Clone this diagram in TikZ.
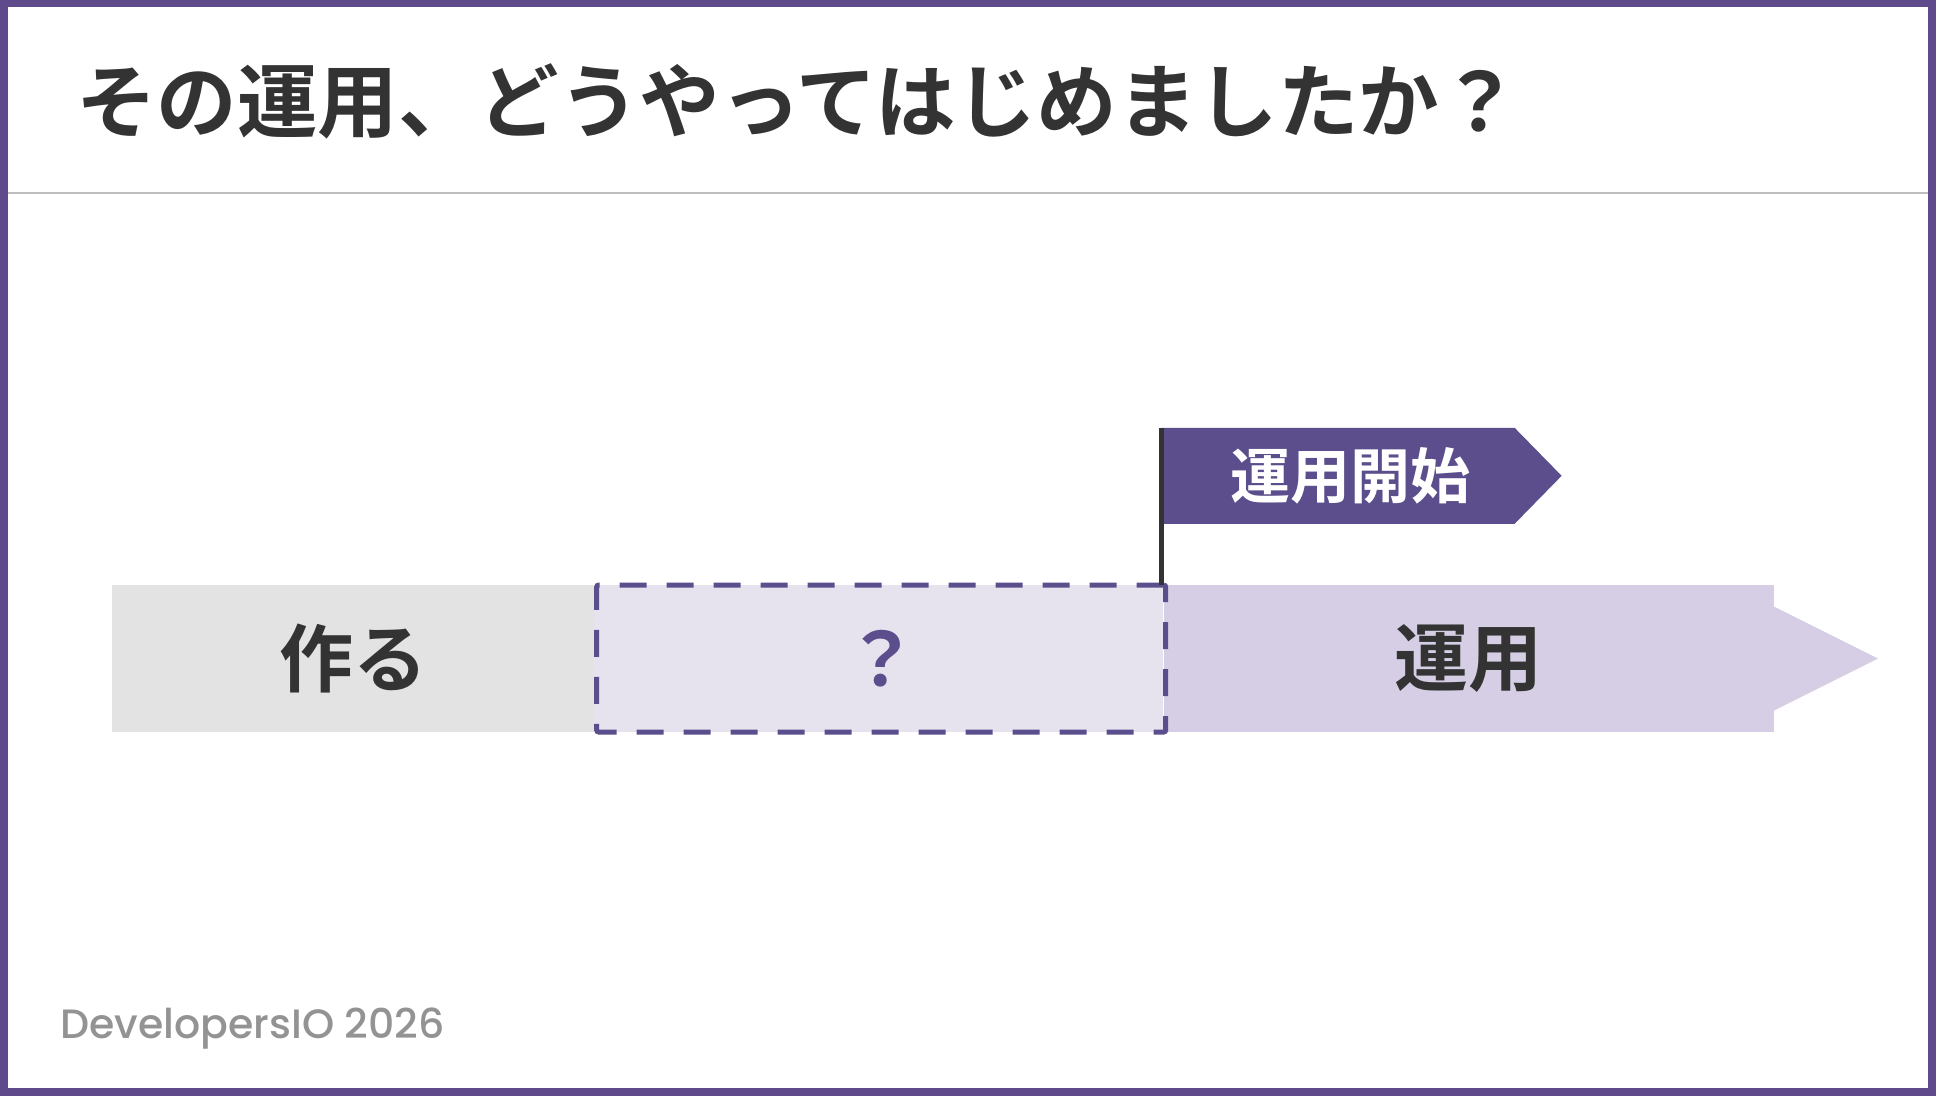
\documentclass[tikz,border=0pt]{standalone}
\usepackage{fontspec}
\usetikzlibrary{positioning, calc}
\newfontfamily\jpfont{Noto Sans CJK JP Bold}
\newfontfamily\logofont{Poppins Medium}
\definecolor{framepurple}{HTML}{5F4B8B}
\definecolor{flagpurple}{HTML}{5C4E8C}
\definecolor{inkgray}{HTML}{333333}
\definecolor{buildgray}{HTML}{E3E3E3}
\definecolor{gapfill}{HTML}{E6E3EF}
\definecolor{opsfill}{HTML}{D6CEE5}
\definecolor{rulegray}{HTML}{BEBEBE}
\definecolor{logogray}{HTML}{939393}

\begin{document}
\begin{tikzpicture}[
    x=1pt, y=-1pt,
    every node/.style={inner sep=0pt, text=inkgray},
    phase/.style={minimum height=147pt, minimum width=#1, font=\jpfont\fontsize{74}{80}\selectfont},
    gapbox/.style={draw=flagpurple, line width=5pt, dash pattern=on 27pt off 20pt, rounded corners=2pt, text=flagpurple},
    pole/.style={draw=inkgray, line width=5pt},
    flagtext/.style={text=white, font=\jpfont\fontsize{60}{66}\selectfont}
]
\useasboundingbox (0,0) rectangle (1936,1096);
\fill[framepurple] (0,0) rectangle (1936,1096);
\fill[white] (8,7) rectangle (1928,1088);

% title
\node[anchor=west, font=\jpfont\fontsize{80.5}{90}\selectfont] (title) at (76,101) {その運用、どうやってはじめましたか？};
\draw[rulegray, line width=2pt] (8,193) -- (1928,193);

% phases
\node[phase=482pt, fill=buildgray] (build) at (353,658.5) {作る};
\node[phase=569pt, fill=gapfill, right=0pt of build] (gap) {};
\node[phase=610pt, fill=opsfill, right=0pt of gap] (ops) {運用};
\fill[opsfill] ($(ops.east)+(0,-52)$) -- ($(ops.east)+(104,0)$) -- ($(ops.east)+(0,52)$) -- cycle;
\node[phase=569pt, gapbox, right=0pt of build] (gapline) {？};

% flag
\coordinate (polefoot) at ($(ops.north west)+(-2,0)$);
\coordinate (flagtop) at ($(ops.north west)+(-2,-157)$);
\fill[flagpurple] (flagtop) -- ++(353,0) -- ++(47,48) -- ++(-47,48) -- ++(-353,0) -- cycle;
\draw[pole] (polefoot) -- (flagtop);
\node[flagtext] (start) at ($(flagtop)+(189,48)$) {運用開始};

% footer
\node[anchor=base west, font=\logofont\fontsize{41}{50}\selectfont, text=logogray] (logo) at (60,1038) {DevelopersIO 2026};
\end{tikzpicture}
\end{document}
